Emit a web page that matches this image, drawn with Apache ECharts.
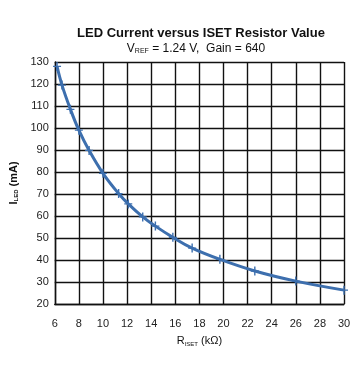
<!DOCTYPE html>
<html><head><meta charset="utf-8">
<script src="https://cdn.jsdelivr.net/npm/echarts@6/dist/echarts.min.js"></script>
<style>html,body{margin:0;padding:0;background:#fff}#c{width:364px;height:367px}</style>
</head><body><div id="c"></div>
<script>
const rsetKohm = [6.19, 6.6, 7.3, 8.0, 8.85, 10.0, 11.3, 12.1, 13.3, 14.35, 15.8, 17.4, 19.7, 22.6, 26.0, 30.0];
const iledMa   = [128, 119.5, 108.5, 99, 89.8, 79.4, 70.2, 65.5, 59.6, 55.4, 50.3, 45.4, 40.3, 35.0, 30.4, 26.3];
const xTicks = [6, 8, 10, 12, 14, 16, 18, 20, 22, 24, 26, 28, 30];
const yTicks = [20, 30, 40, 50, 60, 70, 80, 90, 100, 110, 120, 130];
const FONT = 'Liberation Sans, Arial, sans-serif';
const chart = echarts.init(document.getElementById('c'));
chart.setOption({
  animation: false,
  backgroundColor: '#fff',
  title: [{
    text: 'LED Current versus ISET Resistor Value',
    left: 196, top: 22, textAlign: 'center',
    textStyle: {fontFamily: FONT, fontSize: 13, fontWeight: 'bold', color: '#111'}
  }, {
    text: '{n|V}{s|REF}{n| = 1.24 V,  Gain = 640}',
    left: 191, top: 37, textAlign: 'center',
    textStyle: {fontWeight: 'normal', rich: {
      n: {fontFamily: FONT, fontSize: 12, fontWeight: 'normal', color: '#111'},
      s: {fontFamily: FONT, fontSize: 7, fontWeight: 'normal', color: '#111', padding: [6, 0, 0, 0]}
    }}
  }],
  grid: {left: 45, top: 62, right: 20, bottom: 63, show: false},
  xAxis: {
    type: 'value', min: xTicks[0], max: xTicks[xTicks.length - 1], interval: 2,
    name: '{n|R}{s|ISET}{n| (kΩ)}', nameLocation: 'middle', nameGap: 31,
    nameTextStyle: {rich: {
      n: {fontFamily: FONT, fontSize: 11, color: '#111'},
      s: {fontFamily: FONT, fontSize: 6, color: '#111', padding: [6, 0, 0, 0]}
    }},
    axisLine: {show: true, lineStyle: {color: '#111', width: 1.4}},
    axisTick: {show: false},
    axisLabel: {fontFamily: FONT, fontSize: 11, color: '#222', margin: 14},
    splitLine: {show: true, lineStyle: {color: '#111', width: 1.4}}
  },
  yAxis: {
    type: 'value', min: yTicks[0], max: yTicks[yTicks.length - 1], interval: 10,
    name: '{n|I}{s|LED}{n| (mA)}', nameLocation: 'middle', nameGap: 30, nameRotate: 90,
    nameTextStyle: {rich: {
      n: {fontFamily: FONT, fontSize: 11, fontWeight: 'bold', color: '#111'},
      s: {fontFamily: FONT, fontSize: 6, fontWeight: 'bold', color: '#111', padding: [6, 0, 0, 0]}
    }},
    axisLine: {show: true, lineStyle: {color: '#111', width: 1.4}},
    axisTick: {show: false},
    axisLabel: {fontFamily: FONT, fontSize: 11, color: '#222', margin: 6},
    splitLine: {show: true, lineStyle: {color: '#111', width: 1.4}}
  },
  series: [{
    type: 'line',
    data: rsetKohm.map((r, i) => [r, iledMa[i]]),
    smooth: 0.4,
    lineStyle: {color: '#3d6fae', width: 3},
    symbol: 'path://M-0.7,-5H0.7V5H-0.7ZM-4,-0.7H4V0.7H-4Z',
    symbolSize: [8, 9],
    itemStyle: {color: '#3d6fae'},
    showSymbol: true
  }]
});
</script></body></html>
